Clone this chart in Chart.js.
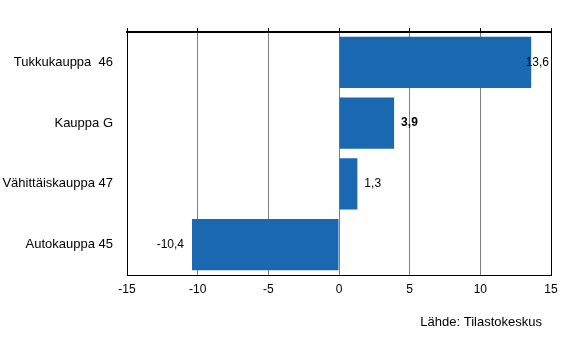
<!DOCTYPE html>
<html>
<head>
<meta charset="utf-8">
<script src="https://cdn.jsdelivr.net/npm/chart.js@4"></script>
<style>
  html, body { margin: 0; padding: 0; background: #fff; }
  #wrap { width: 566px; height: 361px; position: relative; }
</style>
</head>
<body>
<div id="wrap"><canvas id="chart"></canvas></div>
<script>
const categories = ['Tukkukauppa  46', 'Kauppa G', 'Vähittäiskauppa 47', 'Autokauppa 45'];
const values = [13.6, 3.9, 1.3, -10.4];
const valueLabels = ['13,6', '3,9', '1,3', '-10,4'];
const boldLabels = [false, true, false, false];
const xMin = -15, xMax = 15, xStep = 5;
const sourceText = 'Lähde: Tilastokeskus';

const FONT = '"Liberation Sans", Arial, sans-serif';
Chart.defaults.font.family = FONT;
Chart.defaults.font.size = 13;
Chart.defaults.color = '#000';

// value labels next to bar ends + frame + source
const extras = {
    id: 'extras',
    afterDatasetsDraw(chart) {
        const ctx = chart.ctx;
        const area = chart.chartArea;
        const meta = chart.getDatasetMeta(0);
        ctx.save();
        // right border
        ctx.strokeStyle = '#000';
        ctx.lineWidth = 1;
        ctx.beginPath();
        ctx.moveTo(area.right + 0.5, area.top);
        ctx.lineTo(area.right + 0.5, area.bottom);
        ctx.stroke();

        ctx.textBaseline = 'middle';
        ctx.textAlign = 'left';
        meta.data.forEach(function(bar, i) {
            ctx.font = (boldLabels[i] ? 'bold ' : '') + '12px ' + FONT;
            const txt = valueLabels[i];
            const w = ctx.measureText(txt).width;
            let x;
            if (values[i] >= 0) {
                x = bar.x + 7;
                if (x + w > area.right - 2) x = area.right - 2 - w;
            } else {
                x = bar.x - 8 - w;
            }
            ctx.fillStyle = '#000';
            ctx.fillText(txt, x, bar.y);
        });

        ctx.font = '13px ' + FONT;
        ctx.textAlign = 'right';
        ctx.fillText(sourceText, 542, 322);
        ctx.restore();
    }
};

const ctx = document.getElementById('chart').getContext('2d');
const chart = new Chart(ctx, {
    type: 'bar',
    data: {
        labels: categories,
        datasets: [{
            data: values,
            backgroundColor: '#1a68b0',
            borderWidth: 0,
            barPercentage: 0.84,
            categoryPercentage: 1
        }]
    },
    options: {
        indexAxis: 'y',
        responsive: true,
        maintainAspectRatio: false,
        animation: false,
        layout: { padding: { top: 0, left: 0, right: 15, bottom: 0 } },
        plugins: {
            legend: { display: false },
            tooltip: { enabled: false }
        },
        scales: {
            x: {
                type: 'linear',
                position: 'bottom',
                min: xMin,
                max: xMax,
                ticks: { stepSize: xStep, padding: 7, color: '#000', font: { size: 12 } },
                grid: { color: '#808080', drawTicks: false },
                border: { color: '#000', width: 1 },
                afterFit(scale) { scale.height = 86; }
            },
            x2: {
                type: 'linear',
                axis: 'x',
                position: 'top',
                min: xMin,
                max: xMax,
                ticks: { stepSize: xStep, display: false },
                grid: { drawOnChartArea: false, drawTicks: true, tickLength: 4, color: '#000' },
                border: { color: '#000', width: 2 },
                afterFit(scale) { scale.height = 32; }
            },
            y: {
                type: 'category',
                ticks: { padding: 14, color: '#000' },
                grid: { display: false, drawTicks: false },
                border: { color: '#000', width: 1 },
                afterFit(scale) { scale.width = 127; }
            }
        }
    },
    plugins: [extras]
});
</script>
</body>
</html>
